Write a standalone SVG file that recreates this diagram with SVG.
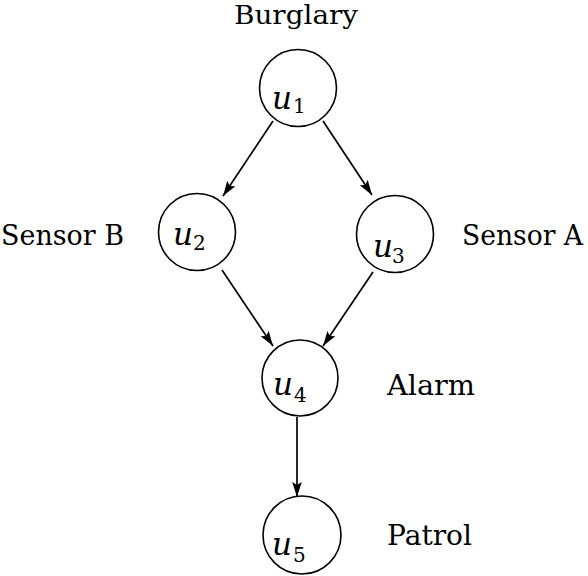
<svg xmlns="http://www.w3.org/2000/svg" width="588" height="576" viewBox="0 0 588 576">
<style>
.node circle{fill:#fff;stroke:#000;stroke-width:1.6}
.edges line{stroke:#000;stroke-width:1.7;fill:none}
text{font-family:"DejaVu Serif","Liberation Serif","Noto Serif","Times New Roman",serif;fill:#000}
.v{font-style:italic;font-size:31px}
.s{font-style:normal;font-size:20px}
</style>
<defs>
<marker id="ah" markerUnits="userSpaceOnUse" markerWidth="17" markerHeight="12" refX="15" refY="6" orient="auto">
<path d="M0,1.2 L15,6 L0,10.8 L3,6 z" fill="#000"/>
</marker>
</defs>
<rect width="588" height="576" fill="#fff"/>
<g id="edges" class="edges">
<line x1="273" y1="121" x2="223" y2="196" marker-end="url(#ah)"/>
<line x1="323" y1="121" x2="372" y2="195" marker-end="url(#ah)"/>
<line x1="222" y1="270" x2="273" y2="346" marker-end="url(#ah)"/>
<line x1="373" y1="272" x2="323" y2="346" marker-end="url(#ah)"/>
<line x1="297" y1="417" x2="297" y2="497" marker-end="url(#ah)"/>
</g>
<g id="u1" class="node">
<circle cx="298" cy="88" r="38.5"/>
<text class="v" x="272" y="109">u<tspan class="s" x="293" y="113">1</tspan></text>
</g>
<g id="u2" class="node">
<circle cx="197" cy="232" r="38.5"/>
<text class="v" x="173" y="245">u<tspan class="s" x="193" y="250">2</tspan></text>
</g>
<g id="u3" class="node">
<circle cx="395" cy="234" r="38.5"/>
<text class="v" x="373" y="257">u<tspan class="s" x="392" y="263">3</tspan></text>
</g>
<g id="u4" class="node">
<circle cx="300" cy="378" r="38"/>
<text class="v" x="273" y="395">u<tspan class="s" x="294" y="402">4</tspan></text>
</g>
<g id="u5" class="node">
<circle cx="302" cy="535" r="39"/>
<text class="v" x="272" y="555">u<tspan class="s" x="293" y="562">5</tspan></text>
</g>
<g id="labels" font-size="27">
<text x="234" y="24" font-size="26" textLength="124" lengthAdjust="spacingAndGlyphs">Burglary</text>
<text x="1" y="245" textLength="123" lengthAdjust="spacingAndGlyphs">Sensor B</text>
<text x="462" y="245" textLength="121" lengthAdjust="spacingAndGlyphs">Sensor A</text>
<text x="387" y="395" textLength="88" lengthAdjust="spacingAndGlyphs">Alarm</text>
<text x="387" y="545" textLength="85" lengthAdjust="spacingAndGlyphs">Patrol</text>
</g>
</svg>
